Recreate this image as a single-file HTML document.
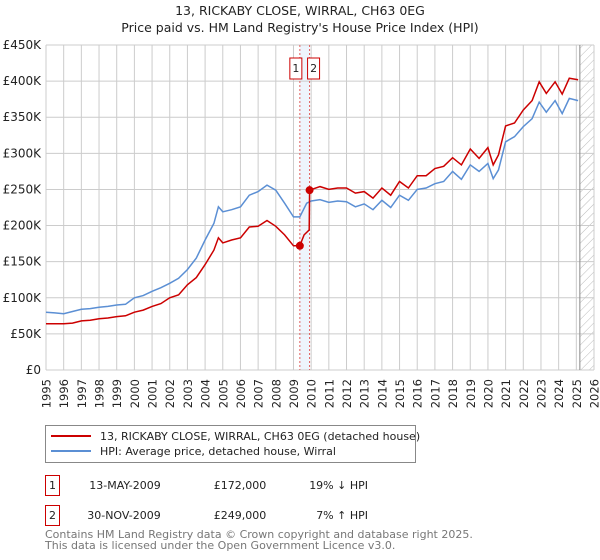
<!DOCTYPE html>
<html><head><meta charset="utf-8"><style>body{margin:0;background:#fff}svg{display:block;font-family:"DejaVu Sans","Liberation Sans",sans-serif}</style></head>
<body>
<svg id="c" width="600" height="560" xmlns="http://www.w3.org/2000/svg">
<text x="300" y="15" text-anchor="middle" font-size="12.5" fill="#222">13, RICKABY CLOSE, WIRRAL, CH63 0EG</text>
<text x="300" y="32" text-anchor="middle" font-size="12.5" fill="#222">Price paid vs. HM Land Registry's House Price Index (HPI)</text>
<defs><pattern id="h" width="6" height="6" patternUnits="userSpaceOnUse" patternTransform="rotate(45)"><line x1="0" y1="0" x2="0" y2="6" stroke="#bbb" stroke-width="1"/></pattern></defs>
<g id="grid"></g><g id="marks"></g>
<g>
<rect x="45.5" y="425.5" width="370" height="37" fill="#fff" stroke="#888"/>
<line x1="51" y1="436" x2="91" y2="436" stroke="#cc0000" stroke-width="2"/>
<text x="100" y="440" font-size="11" fill="#222">13, RICKABY CLOSE, WIRRAL, CH63 0EG (detached house)</text>
<line x1="51" y1="451" x2="91" y2="451" stroke="#5b8fd4" stroke-width="2"/>
<text x="100" y="455" font-size="11" fill="#222">HPI: Average price, detached house, Wirral</text>
</g>
<g font-size="11" fill="#222">
<rect x="45.5" y="475.5" width="14" height="20" fill="none" stroke="#cc0000"/>
<text x="52.5" y="489" text-anchor="middle">1</text>
<text x="125" y="489" text-anchor="middle">13-MAY-2009</text>
<text x="240" y="489" text-anchor="middle">£172,000</text>
<text x="368" y="489" text-anchor="end">19% ↓ HPI</text>
<rect x="45.5" y="505.5" width="14" height="20" fill="none" stroke="#cc0000"/>
<text x="52.5" y="519" text-anchor="middle">2</text>
<text x="124" y="519" text-anchor="middle">30-NOV-2009</text>
<text x="240" y="519" text-anchor="middle">£249,000</text>
<text x="368" y="519" text-anchor="end">7% ↑ HPI</text>
</g>
<text x="45" y="538" font-size="11" fill="#777">Contains HM Land Registry data © Crown copyright and database right 2025.</text>
<text x="45" y="549" font-size="11" fill="#777">This data is licensed under the Open Government Licence v3.0.</text>
</svg>
<script>
const hpiYears=[1995,1995.5,1996,1996.5,1997,1997.5,1998,1998.5,1999,1999.5,2000,2000.5,2001,2001.5,2002,2002.5,2003,2003.5,2004,2004.5,2004.75,2005,2005.5,2006,2006.5,2007,2007.5,2008,2008.5,2009,2009.36,2009.75,2010,2010.5,2011,2011.5,2012,2012.5,2013,2013.5,2014,2014.5,2015,2015.5,2016,2016.5,2017,2017.5,2018,2018.5,2019,2019.5,2020,2020.3,2020.6,2021,2021.5,2022,2022.5,2022.9,2023.3,2023.8,2024.2,2024.6,2025.1];
const hpiValues=[80,79,78,81,84,85,87,88,90,91,100,103,109,114,120,127,139,155,180,203,226,219,222,226,242,247,256,249,231,212,212,231,234,236,232,234,233,226,230,222,235,225,242,235,250,252,258,261,275,264,284,275,286,265,277,316,323,337,348,371,357,373,355,376,373];
const ppYears=[1995,1995.5,1996,1996.5,1997,1997.5,1998,1998.5,1999,1999.5,2000,2000.5,2001,2001.5,2002,2002.5,2003,2003.5,2004,2004.5,2004.75,2005,2005.5,2006,2006.5,2007,2007.5,2008,2008.5,2009,2009.36,2009.6,2009.89,2009.91,2010.5,2011,2011.5,2012,2012.5,2013,2013.5,2014,2014.5,2015,2015.5,2016,2016.5,2017,2017.5,2018,2018.5,2019,2019.5,2020,2020.3,2020.6,2021,2021.5,2022,2022.5,2022.9,2023.3,2023.8,2024.2,2024.6,2025.1];
const ppValues=[64,64,64,65,68,69,71,72,74,75,80,83,88,92,100,104,118,128,146,166,183,176,180,183,198,199,207,199,187,172,172,187,194,249,254,250,252,252,245,247,238,252,242,261,252,269,269,279,282,294,284,306,293,308,284,298,338,342,360,373,399,383,399,382,404,402];
const sales=[{y:2009.36,v:172,n:"1"},{y:2009.91,v:249,n:"2"}];
const yTicks=[0,50,100,150,200,250,300,350,400,450];
const xTicks=[];for(let y=1995;y<=2026;y++)xTicks.push(y);
const X0=46,X1=594,Y0=370,Y1=45;
const sx=y=>X0+(y-1995)/(2026-1995)*(X1-X0);
const sy=v=>Y0-v/450*(Y0-Y1);
const NS="http://www.w3.org/2000/svg";
const G=document.getElementById('grid'),M=document.getElementById('marks');
function mk(p,t,a){const e=document.createElementNS(NS,t);for(const k in a)e.setAttribute(k,a[k]);p.appendChild(e);return e;}
let e;
e=mk(G,'rect',{x:sx(2009.36),y:Y1,width:sx(2009.91)-sx(2009.36),height:Y0-Y1,fill:'#eef4fc'});


e=mk(G,'rect',{x:sx(2025.2),y:Y1,width:X1-sx(2025.2),height:Y0-Y1,fill:'url(#h)'});


xTicks.forEach(y=>{
 e=mk(G,'line',{x1:sx(y),x2:sx(y),y1:Y1,y2:Y0,stroke:'#cccccc','stroke-width':1});
 
 
 const tx=sx(y)+4.5,ty=379;
 e=mk(G,'text',{x:tx,y:ty,'text-anchor':'end','font-size':11.5,fill:'#222',transform:'rotate(-90 '+tx+' '+ty+')'});e.textContent=y;
 
 
});
yTicks.forEach(v=>{
 e=mk(G,'line',{x1:X0,x2:X1,y1:sy(v),y2:sy(v),stroke:'#cccccc','stroke-width':1});
 
 
 e=mk(G,'text',{x:X0-5,y:sy(v)+4,'text-anchor':'end','font-size':12,fill:'#222'});e.textContent=v===0?'£0':'£'+v+'K';
 
 
});
e=mk(G,'line',{x1:sx(2025.2),x2:sx(2025.2),y1:Y1,y2:Y0,stroke:'#888','stroke-width':1});


sales.forEach(s=>{
 e=mk(G,'line',{x1:sx(s.y),x2:sx(s.y),y1:Y1,y2:Y0,stroke:'#e06060','stroke-width':1,'stroke-dasharray':'2,2'});
 
 
 const bx=s.n==="1"?sx(s.y)-10:sx(s.y)-2;
 e=mk(G,'rect',{x:bx,y:58,width:12,height:21,fill:'#fff',stroke:'#cc0000'});
 
 
 e=mk(G,'text',{x:bx+6,y:72,'text-anchor':'middle','font-size':11,fill:'#222'});e.textContent=s.n;
 
 
});
function path(xs,vs){return xs.map((y,i)=>(i?'L':'M')+sx(y).toFixed(1)+','+sy(vs[i]).toFixed(1)).join('');}
e=mk(M,'path',{d:path(hpiYears,hpiValues),fill:'none',stroke:'#5b8fd4','stroke-width':1.5});


e=mk(M,'path',{d:path(ppYears,ppValues),fill:'none',stroke:'#cc0000','stroke-width':1.5});


sales.forEach(s=>{
 e=mk(M,'circle',{cx:sx(s.y),cy:sy(s.v),r:4,fill:'#cc0000'});
 
 
});
</script>
</body></html>
